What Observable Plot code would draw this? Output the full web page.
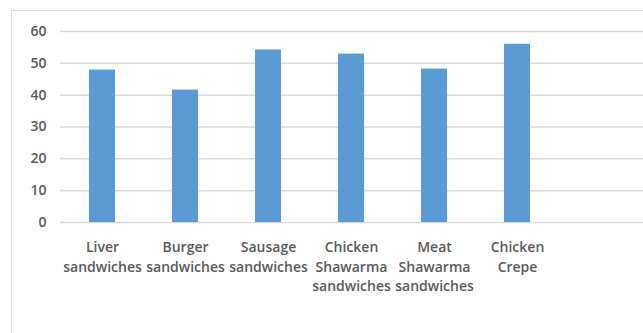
<!DOCTYPE html>
<html>
<head>
<meta charset="utf-8">
<script src="https://cdn.jsdelivr.net/npm/d3@7"></script>
<script src="https://cdn.jsdelivr.net/npm/@observablehq/plot@0.6"></script>
<style>
  html, body { margin: 0; padding: 0; background: #fff; overflow: hidden; }
  #wrap { position: relative; width: 643px; height: 333px; }
  #frame { position: absolute; left: 11px; top: 10px; width: 700px; height: 400px;
           border: 1.5px solid #d9d9d9; box-sizing: border-box; }
  #chart { position: absolute; left: 0; top: 0; }
</style>
</head>
<body>
<div id="wrap">
  <div id="frame"></div>
  <div id="chart"></div>
</div>
<script>
const categories = [
  "Liver\nsandwiches",
  "Burger\nsandwiches",
  "Sausage\nsandwiches",
  "Chicken\nShawarma\nsandwiches",
  "Meat\nShawarma\nsandwiches",
  "Chicken\nCrepe"
];
const values = [47.9, 41.6, 54.2, 52.9, 48.2, 56.0];
const yTicks = [0, 10, 20, 30, 40, 50, 60];

const data = categories.map((c, i) => ({category: c, value: values[i]}));

const plot = Plot.plot({
  width: 643,
  height: 333,
  marginLeft: 60,
  marginRight: 0,
  marginTop: 31,
  marginBottom: 111,
  style: {fontFamily: "'Open Sans', sans-serif", fontSize: "14px", color: "#595959", background: "transparent"},
  x: {domain: categories, range: [60, 558], paddingInner: 0.687, paddingOuter: 0.3435, label: null},
  y: {domain: [0, 60], label: null},
  marks: [
    Plot.ruleY(yTicks, {stroke: "#d9d9d9", strokeWidth: 1.5}),
    Plot.barY(data, {x: "category", y: "value", fill: "#5b9bd5"}),
    Plot.axisY(yTicks, {tickSize: 0, tickPadding: 14, fontSize: 14, fill: "#595959", fontWeight: 600, label: null}),
    Plot.axisX({tickSize: 0, tickPadding: 16, fontSize: 14, fill: "#595959", fontWeight: 600, lineHeight: 1.39, label: null})
  ]
});
document.getElementById("chart").appendChild(plot);
</script>
</body>
</html>
